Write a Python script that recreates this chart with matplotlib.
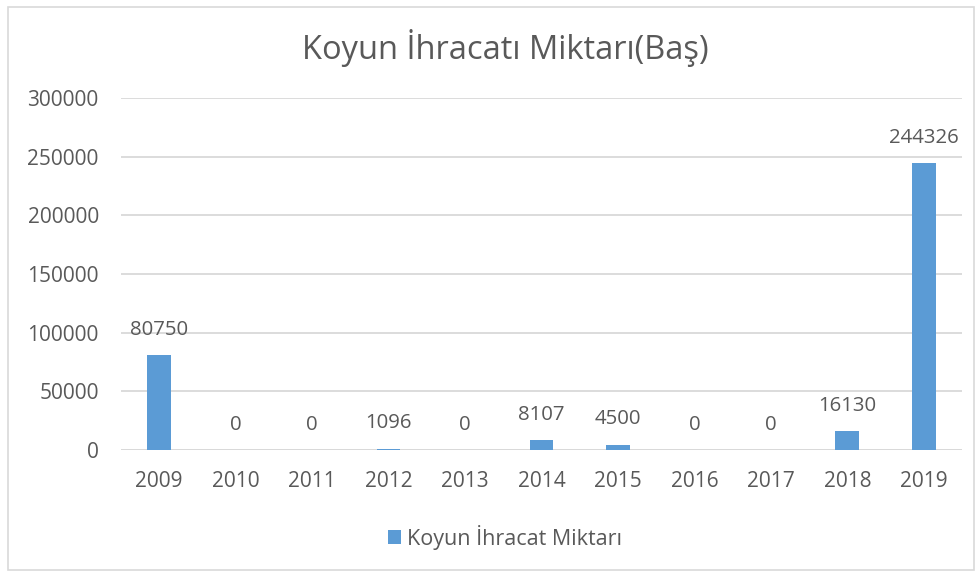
import matplotlib.pyplot as plt
from matplotlib.patches import Rectangle

# Data
years = ["2009", "2010", "2011", "2012", "2013", "2014", "2015", "2016", "2017", "2018", "2019"]
values = [80750, 0, 0, 1096, 0, 8107, 4500, 0, 0, 16130, 244326]
yticks = [0, 50000, 100000, 150000, 200000, 250000, 300000]

BAR_COLOR = "#5B9BD5"
TEXT_COLOR = "#595959"
GRID_COLOR = "#D9D9D9"

plt.rcParams['font.family'] = ['Open Sans', 'DejaVu Sans']

fig = plt.figure(figsize=(9.79, 5.76), dpi=100)
ax = fig.add_axes([121 / 979, 1 - 450 / 576, (962 - 121) / 979, (450 - 98) / 576])

x = range(len(years))
bars = ax.bar(x, values, width=0.31, color=BAR_COLOR, label="Koyun İhracat Miktarı", zorder=3)

# value labels above bars
for bar, v in zip(bars, values):
    ax.annotate(f"{v}", (bar.get_x() + bar.get_width() / 2, v),
                xytext=(0, 11), textcoords="offset points",
                ha="center", va="bottom", fontsize=14.7, color=TEXT_COLOR)

ax.set_xlim(-0.5, len(years) - 0.5)
ax.set_ylim(0, 300000)
ax.set_yticks(yticks)
ax.set_yticklabels([str(t) for t in yticks])
ax.set_xticks(list(x))
ax.set_xticklabels(years)
ax.tick_params(axis="both", length=0, labelsize=15, colors=TEXT_COLOR)
ax.tick_params(axis="x", pad=15)
ax.tick_params(axis="y", pad=16)
ax.yaxis.grid(True, color=GRID_COLOR, linewidth=1.3, zorder=0)
for s in ax.spines.values():
    s.set_visible(False)
ax.axhline(0, color=GRID_COLOR, linewidth=1.3, zorder=2)

fig.text(505 / 979, 1 - 48 / 576, "Koyun İhracatı Miktarı(Baş)", ha="center", va="center",
         fontsize=23.5, color=TEXT_COLOR)

fig.legend(handles=[bars], labels=["Koyun İhracat Miktarı"], loc="center",
           bbox_to_anchor=(505 / 979, 1 - 537 / 576), frameon=False,
           fontsize=15.5, labelcolor=TEXT_COLOR, handlelength=0.6, handleheight=0.6,
           handletextpad=0.25)

# chart border
fig.patches.append(Rectangle((8 / 979, 6 / 576), 966 / 979, 563 / 576, transform=fig.transFigure,
                             fill=False, edgecolor=GRID_COLOR, linewidth=1.2))

fig.savefig("out.png", dpi=100)
